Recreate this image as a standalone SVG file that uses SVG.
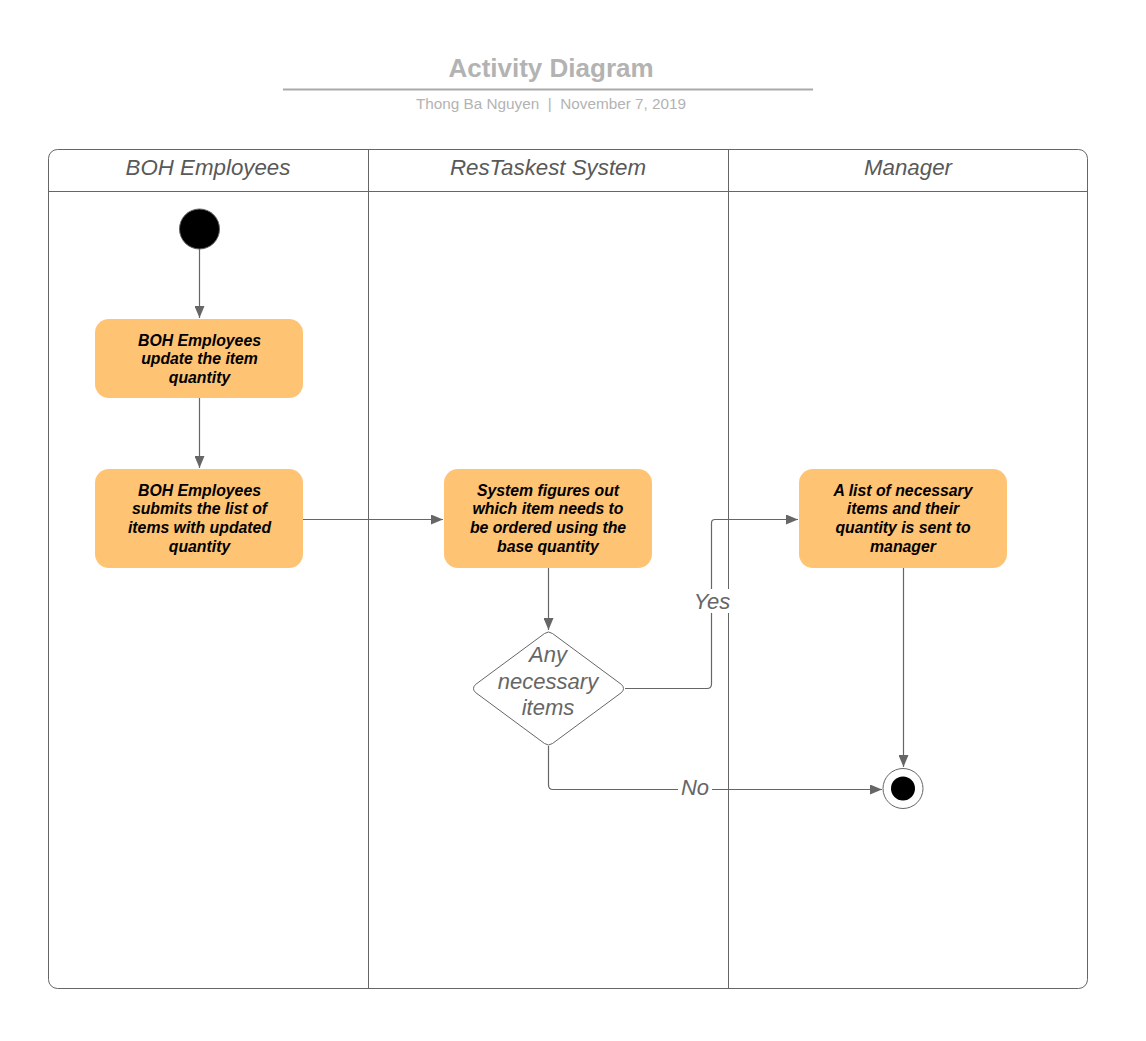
<svg xmlns="http://www.w3.org/2000/svg" width="1146" height="1041" viewBox="0 0 1146 1041">
<defs>
<marker id="arr" markerWidth="12" markerHeight="10" refX="12" refY="5" orient="auto" markerUnits="userSpaceOnUse">
<path d="M0,0 L12,5 L0,10 Z" fill="#666"/>
</marker>
<style>
.lane{fill:none;stroke:#666;stroke-width:1}
.hdr{font-family:"Liberation Sans",Arial,sans-serif;font-style:italic;font-size:22.3px;fill:#595959;text-anchor:middle}
.box{fill:#ffc374;stroke:none}
.bt{font-family:"Liberation Sans",Arial,sans-serif;font-style:italic;font-weight:bold;font-size:15.8px;fill:#000;text-anchor:middle}
.conn{fill:none;stroke:#666;stroke-width:1.2;marker-end:url(#arr)}
.lbl{font-family:"Liberation Sans",Arial,sans-serif;font-style:italic;font-size:22px;fill:#666;text-anchor:middle}
</style>
</defs>
<rect width="1146" height="1041" fill="#fff"/>
<g id="title">
<text x="551" y="77" font-family="Liberation Sans, Arial, sans-serif" font-weight="bold" font-size="26" fill="#b3b3b3" text-anchor="middle">Activity Diagram</text>
<line x1="283" y1="89.5" x2="813" y2="89.5" stroke="#aaa" stroke-width="2"/>
<text x="551" y="108.5" font-family="Liberation Sans, Arial, sans-serif" font-size="15.3" fill="#b3b3b3" text-anchor="middle" xml:space="preserve">Thong Ba Nguyen  |  November 7, 2019</text>
</g>
<g id="pool">
<rect class="lane" x="48.5" y="149.5" width="1039" height="839" rx="9"/>
<line class="lane" x1="48.5" y1="191.5" x2="1087.5" y2="191.5"/>
<line class="lane" x1="368.5" y1="149.5" x2="368.5" y2="988.5"/>
<line class="lane" x1="728.5" y1="149.5" x2="728.5" y2="988.5"/>
<text class="hdr" x="208" y="174.5">BOH Employees</text>
<text class="hdr" x="548" y="174.5">ResTaskest System</text>
<text class="hdr" x="908" y="174.5">Manager</text>
</g>
<g id="connectors">
<line class="conn" x1="199.5" y1="249" x2="199.5" y2="318"/>
<line class="conn" x1="199.5" y1="398" x2="199.5" y2="468"/>
<line class="conn" x1="303" y1="519.5" x2="443" y2="519.5"/>
<line class="conn" x1="548.5" y1="568" x2="548.5" y2="630"/>
<path class="conn" d="M625,688.5 H707 Q711.5,688.5 711.5,684 V523 Q711.5,519.5 715,519.5 H798"/>
<path class="conn" d="M548.5,746 V785 Q548.5,789.5 553,789.5 H882"/>
<line class="conn" x1="903.5" y1="568" x2="903.5" y2="767"/>
<rect x="692" y="589" width="38" height="24" fill="#fff"/>
<text class="lbl" x="712" y="608.5">Yes</text>
<rect x="678" y="775" width="34" height="24" fill="#fff"/>
<text class="lbl" x="695" y="794.5">No</text>
</g>
<g id="start">
<circle cx="199.5" cy="229" r="20" fill="#000" stroke="#666" stroke-width="1"/>
</g>
<g id="n1">
<rect class="box" x="95" y="319" width="208" height="79" rx="14"/>
<text class="bt" x="199.5" y="345.5">BOH Employees</text>
<text class="bt" x="199.5" y="364">update the item</text>
<text class="bt" x="199.5" y="382.5">quantity</text>
</g>
<g id="n2">
<rect class="box" x="95" y="469" width="208" height="99" rx="14"/>
<text class="bt" x="199.5" y="495.5">BOH Employees</text>
<text class="bt" x="199.5" y="514">submits the list of</text>
<text class="bt" x="199.5" y="532.5">items with updated</text>
<text class="bt" x="199.5" y="551.5">quantity</text>
</g>
<g id="n3">
<rect class="box" x="444" y="469" width="208" height="99" rx="14"/>
<text class="bt" x="548" y="495.5">System figures out</text>
<text class="bt" x="548" y="514">which item needs to</text>
<text class="bt" x="548" y="532.5">be ordered using the</text>
<text class="bt" x="548" y="551.5">base quantity</text>
</g>
<g id="decision">
<path d="M544.5,633.5 Q548.5,630.5 552.5,633.5 L621.5,684.5 Q625.5,688.5 621.5,692.5 L552.5,743.5 Q548.5,746.5 544.5,743.5 L475.5,692.5 Q471.5,688.5 475.5,684.5 Z" fill="#fff" stroke="#666" stroke-width="1"/>
<text class="lbl" x="548" y="662">Any</text>
<text class="lbl" x="548" y="689">necessary</text>
<text class="lbl" x="548" y="715">items</text>
</g>
<g id="n4">
<rect class="box" x="799" y="469" width="208" height="99" rx="14"/>
<text class="bt" x="903" y="495.5">A list of necessary</text>
<text class="bt" x="903" y="514">items and their</text>
<text class="bt" x="903" y="532.5">quantity is sent to</text>
<text class="bt" x="903" y="551.5">manager</text>
</g>
<g id="end">
<circle cx="903" cy="788.5" r="20" fill="#fff" stroke="#666" stroke-width="1"/>
<circle cx="903" cy="788.5" r="12" fill="#000"/>
</g>
</svg>
